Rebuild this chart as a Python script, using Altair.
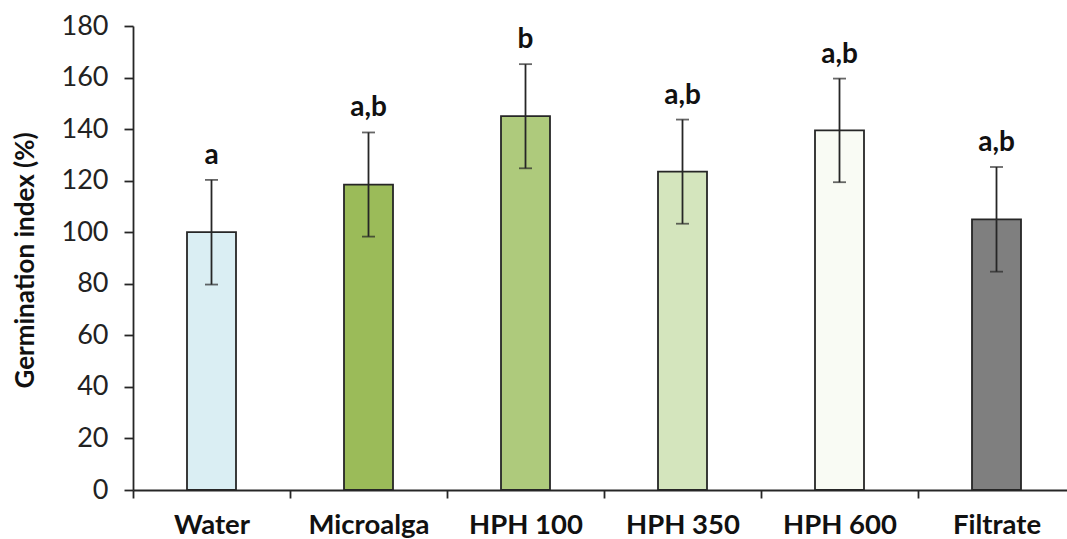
import altair as alt
import pandas as pd

categories = ["Water", "Microalga", "HPH 100", "HPH 350", "HPH 600", "Filtrate"]
means = [100, 118.5, 145, 123.5, 139.5, 105]
errors = [20.3, 20.2, 20.2, 20.2, 20.1, 20.3]
letters = ["a", "a,b", "b", "a,b", "a,b", "a,b"]
fills = ["#DAEEF3", "#9BBB59", "#AECA7C", "#D4E5BD", "#F9FBF4", "#7F7F7F"]
y_ticks = [0, 20, 40, 60, 80, 100, 120, 140, 160, 180]

df = pd.DataFrame({"cat": categories, "mean": means, "err": errors, "letter": letters})
df["low"] = df["mean"] - df["err"]
df["high"] = df["mean"] + df["err"]

FONT = "Lato"
DARK = "#262626"

x = alt.X(
    "cat:N",
    sort=categories,
    scale=alt.Scale(range=[0, 942], paddingInner=0, paddingOuter=0),
    axis=alt.Axis(
        title=None, labelAngle=0, tickBand="extent", tickSize=8,
        labelFont=FONT, labelFontSize=27.5, labelFontWeight="bold", labelColor="#111111",
        labelPadding=13, domainColor=DARK, tickColor=DARK, domainWidth=1.8, tickWidth=1.8,
    ),
)

y_scale = alt.Scale(domain=[0, 180], nice=False, zero=True)
y_axis = alt.Axis(
    values=y_ticks, grid=False, title="Germination index (%)", tickSize=9,
    labelFont=FONT, labelFontSize=27, labelColor="#222222", labelPadding=16,
    domainColor=DARK, tickColor=DARK, domainWidth=1.8, tickWidth=1.8,
    titleFont=FONT, titleFontSize=26, titleFontWeight="bold", titleColor="#111111",
    titleX=-100, titleY=234, titleAngle=-90, titleAlign="center", titleBaseline="alphabetic",
)

base = alt.Chart(df)

bars = base.mark_bar(size=49, stroke=DARK, strokeWidth=1.8).encode(
    x=x,
    y=alt.Y("mean:Q", scale=y_scale, axis=y_axis),
    fill=alt.Fill("cat:N", sort=categories, scale=alt.Scale(domain=categories, range=fills), legend=None),
)

rules = base.mark_rule(color=DARK, strokeWidth=1.8).encode(
    x=alt.X("cat:N", sort=categories), y="low:Q", y2="high:Q"
)
cap_hi = base.mark_tick(size=13, thickness=1.8, color=DARK, orient="horizontal").encode(
    x=alt.X("cat:N", sort=categories), y="high:Q"
)
cap_lo = base.mark_tick(size=13, thickness=1.8, color=DARK, orient="horizontal").encode(
    x=alt.X("cat:N", sort=categories), y="low:Q"
)
texts = base.mark_text(font=FONT, fontSize=28, fontWeight="bold", color="#111111",
                       baseline="alphabetic", dy=-16).encode(
    x=alt.X("cat:N", sort=categories), y="high:Q", text="letter:N"
)

chart = alt.layer(bars, rules, cap_hi, cap_lo, texts).properties(
    width=934, height=464,
    autosize=alt.AutoSizeParams(type="none"),
    padding={"left": 133, "top": 26, "right": 0, "bottom": 49},
    background="white",
).configure_view(stroke=None)

chart.save("out.html", embed_options={"renderer": "svg", "actions": False})
